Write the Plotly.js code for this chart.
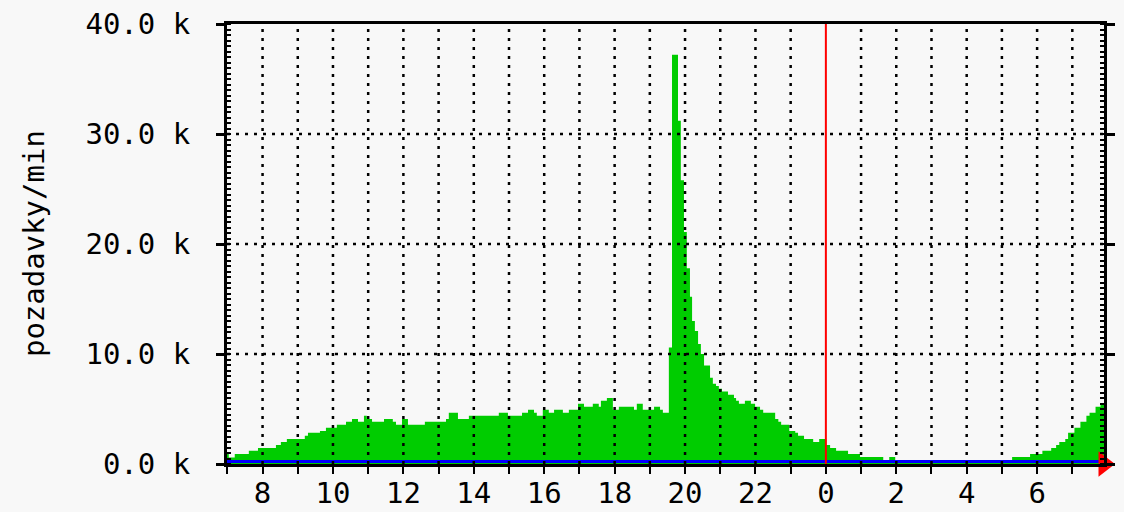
<!DOCTYPE html>
<html>
<head>
<meta charset="utf-8">
<script src="https://cdn.plot.ly/plotly-3.0.1.min.js"></script>
<style>
  html, body { margin: 0; padding: 0; background: #f8f8f8; }
  #chart { width: 1124px; height: 512px; }
</style>
</head>
<body>
<div id="chart"></div>
<script>
// Step start times (hours since midnight of the first day; 24+ = next day)
const inHours = [
  6.99, 7.04, 7.21, 7.61, 7.87, 8.38, 8.52, 8.69, 9.20, 9.29,
  9.63, 9.80, 10.11, 10.37, 10.54, 10.71, 10.88, 10.96, 11.11, 11.45,
  11.70, 11.79, 11.96, 12.13, 12.61, 13.21, 13.29, 13.55, 13.86, 14.71,
  14.97, 15.37, 15.54, 15.71, 15.79, 15.96, 16.13, 16.28, 16.53, 16.70,
  16.96, 17.13, 17.38, 17.55, 17.61, 17.78, 17.95, 18.12, 18.55, 18.63,
  18.80, 19.12, 19.29, 19.37, 19.54, 19.63, 19.80, 19.88, 19.97, 20.05,
  20.14, 20.20, 20.28, 20.37, 20.45, 20.54, 20.71, 20.79, 20.88, 20.96,
  21.05, 21.22, 21.39, 21.45, 21.53, 21.70, 21.87, 21.99, 22.13, 22.22,
  22.56, 22.65, 22.73, 22.96, 23.13, 23.21, 23.38, 23.64, 23.81, 24.01,
  24.12, 24.29, 24.63, 24.97, 25.63, 25.80, 25.97, 29.29, 29.80, 30.15,
  30.40, 30.54, 30.63, 30.80, 30.88, 31.06, 31.23, 31.40, 31.49, 31.66,
  31.80, 31.90
];
// Incoming requests per minute, in thousands (k)
const inK = [
  0.9, 0.6, 0.9, 1.2, 1.46, 1.73, 2.0, 2.28, 2.56, 2.83,
  3.0, 3.3, 3.56, 3.83, 4.1, 3.83, 4.38, 4.1, 3.83, 4.1,
  3.83, 3.56, 4.1, 3.56, 3.83, 4.1, 4.66, 4.1, 4.38, 4.66,
  4.38, 4.66, 4.93, 4.66, 4.38, 4.93, 4.66, 4.93, 4.66, 4.93,
  5.48, 5.2, 5.48, 5.2, 5.75, 6.0, 4.93, 5.2, 4.93, 5.48,
  4.93, 5.2, 4.93, 4.66, 10.6, 37.2, 31.2, 25.8, 21.1, 17.8,
  15.2, 13.0, 12.1, 10.9, 10.0, 8.95, 7.85, 7.3, 7.1, 6.85,
  6.6, 6.3, 6.0, 5.75, 5.48, 5.75, 5.48, 5.2, 4.93, 4.66,
  4.1, 3.83, 3.56, 3.0, 2.83, 2.56, 2.28, 2.0, 2.28, 1.73,
  1.46, 1.2, 0.9, 0.64, 0.3, 0.64, 0.3, 0.64, 0.9, 1.2,
  1.46, 1.73, 2.0, 2.28, 2.83, 3.3, 3.83, 4.38, 4.66, 5.2,
  5.48, 5.48
];
// Outgoing series (blue line), thousands
const outHours = [6.99, 31.90];
const outK = [0.23, 0.23];

// Axis definitions
const xRange = [6.99, 31.90];
const yRange = [0, 40];
const tickHours = [7,8,9,10,11,12,13,14,15,16,17,18,19,20,21,22,23,24,25,26,27,28,29,30,31];
const tickLabels = ['','8','','10','','12','','14','','16','','18','','20','','22','','0','','2','','4','','6',''];
const yTickVals = [0, 10, 20, 30, 40];
const yTickLabels = ['0.0 k', '10.0 k', '20.0 k', '30.0 k', '40.0 k'];
const midnightHour = 24;
const yTitle = 'pozadavky/min';

const FONT = 'DejaVu Sans Mono, monospace';
const dotted = { color: '#000000', width: 2.5, dash: '3px,6px' };

const shapes = [];
tickHours.forEach(h => {
  if (h === tickHours[0] || h === midnightHour) return;
  shapes.push({ type: 'line', xref: 'x', yref: 'paper', x0: h, x1: h, y0: 0, y1: 1, line: dotted, layer: 'above' });
});
yTickVals.forEach(v => {
  if (v === yRange[0] || v === yRange[1]) return;
  shapes.push({ type: 'line', xref: 'paper', yref: 'y', x0: 0, x1: 1, y0: v, y1: v, line: dotted, layer: 'above' });
});
shapes.push({ type: 'line', xref: 'x', yref: 'paper', x0: midnightHour, x1: midnightHour, y0: 0, y1: 1,
  line: { color: '#ff0000', width: 2 }, layer: 'above' });

const traces = [
  {
    type: 'scatter', mode: 'lines', x: inHours, y: inK,
    line: { shape: 'hv', width: 0, color: '#00cc00' },
    fill: 'tozeroy', fillcolor: '#00cc00', hoverinfo: 'skip'
  },
  {
    type: 'scatter', mode: 'lines', x: outHours, y: outK,
    line: { width: 3, color: '#0000ff' }, hoverinfo: 'skip'
  },
  {
    type: 'scatter', mode: 'markers', x: [xRange[1]], y: [yRange[0]],
    marker: { symbol: 'triangle-right', size: 22, color: '#ff0000' },
    cliponaxis: false, hoverinfo: 'skip'
  }
];

const layout = {
  width: 1124, height: 512,
  margin: { l: 227, r: 20, t: 24, b: 48 },
  paper_bgcolor: '#f8f8f8', plot_bgcolor: '#f8f8f8',
  showlegend: false,
  font: { family: FONT, size: 29, color: '#000000' },
  xaxis: {
    range: xRange, tickmode: 'array', tickvals: tickHours, ticktext: tickLabels,
    showgrid: false, zeroline: false,
    showline: true, linecolor: '#000000', linewidth: 3, mirror: true,
    ticks: 'outside', ticklen: 7, tickwidth: 2, tickcolor: '#000000',
    ticklabelstandoff: -6,
    tickfont: { family: FONT, size: 29, color: '#000000' },
    layer: 'above traces', fixedrange: true
  },
  yaxis: {
    range: yRange, tickmode: 'array', tickvals: yTickVals, ticktext: yTickLabels,
    showgrid: false, zeroline: false,
    showline: true, linecolor: '#000000', linewidth: 3, mirror: 'ticks',
    ticks: 'outside', ticklen: 8, tickwidth: 3, tickcolor: '#000000',
    ticklabelstandoff: 20,
    minor: { dtick: 0.5, ticks: 'inside', ticklen: 4, tickwidth: 2, tickcolor: '#000000', showgrid: false },
    tickfont: { family: FONT, size: 29, color: '#000000' },
    layer: 'above traces', fixedrange: true
  },
  shapes: shapes,
  annotations: [{
    text: yTitle, xref: 'paper', yref: 'paper', x: -0.22, y: 0.5,
    xanchor: 'center', yanchor: 'middle', textangle: -90, showarrow: false,
    font: { family: FONT, size: 29, color: '#000000' }
  }]
};

Plotly.newPlot('chart', traces, layout, { displayModeBar: false, staticPlot: true });
</script>
</body>
</html>
